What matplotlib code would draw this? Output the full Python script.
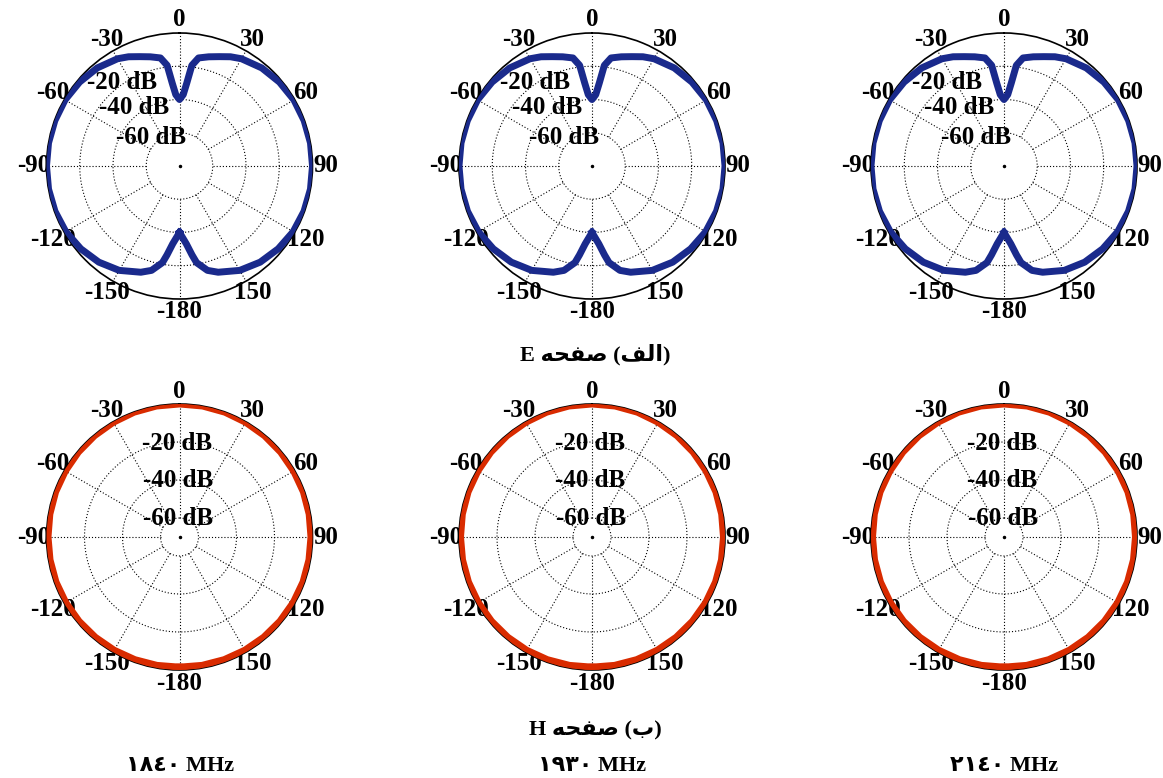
import numpy as np
import matplotlib
matplotlib.use("Agg")
import matplotlib.pyplot as plt

# ---------------- data ----------------
frequencies = ["\u0661\u0668\u0664\u0660 MHz", "\u0661\u0669\u0663\u0660 MHz", "\u0662\u0661\u0664\u0660 MHz"]

e_angles_deg = [-180, -175, -172, -170, -165, -160, -150, -140, -130, -120, -110, -100,
                -90, -80, -70, -60, -50, -40, -30, -25, -20, -15, -10, -7, -5, -3,
                0, 3, 5, 7, 10, 15, 20, 25, 30, 40, 50, 60, 70, 80, 90,
                100, 110, 120, 130, 140, 150, 160, 165, 170, 172, 175, 180]
e_plane_db = [-40, -33, -26, -21, -15, -12, -7.5, -4.5, -2.5, -1.0, -0.3, 0.0,
              0.0, 0.0, -0.2, -0.5, -1.5, -3.0, -5.5, -7.5, -10, -12, -14, -19, -30, -37,
              -40, -37, -30, -19, -14, -12, -10, -7.5, -5.5, -3.0, -1.5, -0.5, -0.2, 0.0, 0.0,
              0.0, -0.3, -1.0, -2.5, -4.5, -7.5, -12, -15, -21, -26, -33, -40]

h_angles_deg = [-180, -170, -160, -150, -140, -130, -120, -110, -100, -90, -80, -70, -60,
                -50, -40, -30, -20, -10, 0, 10, 20, 30, 40, 50, 60, 70, 80, 90,
                100, 110, 120, 130, 140, 150, 160, 170, 180]
h_plane_db = [-1.5, -1.4, -1.3, -1.2, -1.1, -1.0, -0.9, -0.8, -0.8, -0.8, -0.7, -0.6, -0.6,
              -0.5, -0.4, -0.3, -0.1, 0.0, 0.0, 0.0, -0.1, -0.3, -0.4, -0.5, -0.6, -0.6, -0.7, -0.8,
              -0.8, -0.8, -0.9, -1.0, -1.1, -1.2, -1.3, -1.4, -1.5]

angle_ticks = [0, 30, 60, 90, 120, 150, 180, -150, -120, -90, -60, -30]
angle_tick_labels = ["0", "30", "60", "90", "120", "150", "-180", "-150", "-120", "-90", "-60", "-30"]
ring_levels = [-60, -40, -20]
ring_labels = ["-60 dB", "-40 dB", "-20 dB"]

e_rmin, h_rmin = -80, -70

# Persian captions (visual order, presentation forms)
caption_e = "E \uFEEA\uFEA4\uFED4\uFEBB (\uFED2\uFEDF\uFE8D)"
caption_h = "H \uFEEA\uFEA4\uFED4\uFEBB (\uFE8F)"

blue = "#1a2a8c"
red = "#d92b00"

# ---------------- figure ----------------
W, H = 1163, 778
fig = plt.figure(figsize=(W / 100, H / 100), dpi=100)
fig.patch.set_facecolor("white")

font = dict(family=["Liberation Serif", "DejaVu Sans"], weight="bold")
R = 133  # px radius


def make_axes(cx, cy):
    rect = [(cx - R) / W, (H - cy - R) / H, 2 * R / W, 2 * R / H]
    ax = fig.add_axes(rect, projection="polar")
    ax.set_theta_zero_location("N")
    ax.set_theta_direction(-1)
    ax.set_xticks([])
    ax.set_yticks([])
    ax.grid(False)
    ax.set_facecolor("none")
    ax.spines["polar"].set_color("black")
    ax.spines["polar"].set_linewidth(1.2)
    return ax


def draw_grid(ax, rmin):
    ax.set_ylim(rmin, 0)
    th = np.linspace(0, 2 * np.pi, 361)
    for lv in ring_levels:
        ax.plot(th, np.full_like(th, lv), color="black", lw=0.8,
                linestyle=(0, (1, 1.8)), zorder=1)
    for a in range(0, 360, 30):
        t = np.deg2rad(a)
        ax.plot([t, t], [ring_levels[0], 0], color="black", lw=0.8,
                linestyle=(0, (1, 1.8)), zorder=1)
    ax.plot([0], [rmin], marker="o", ms=1.5, color="black", zorder=1)
    frac = 146 / (2 * R)
    for a, lab in zip(angle_ticks, angle_tick_labels):
        t = np.deg2rad(a)
        ax.text(0.5 + frac * np.sin(t), 0.5 + frac * np.cos(t), lab,
                transform=ax.transAxes, ha="center", va="center",
                fontsize=18, clip_on=False, **font)


centers_x = [179.5, 592, 1004]
top_cy, bot_cy = 166, 537

# E-plane row
e_label_pos = [(-44, -55.8), (-37.8, -35.8), (-34.5, -19.4)]
for cx in centers_x:
    ax = make_axes(cx, top_cy)
    draw_grid(ax, e_rmin)
    for (ang, rr), lab in zip(e_label_pos, ring_labels):
        ax.text(np.deg2rad(ang), rr, lab, ha="center", va="center",
                fontsize=18, zorder=4, **font)
    ax.plot(np.deg2rad(e_angles_deg), e_plane_db, color=blue, lw=5,
            solid_joinstyle="round", zorder=3)

# H-plane row
h_label_pos = [(-4, -60), (-1.8, -40.3), (-1.2, -20.6)]
for cx in centers_x:
    ax = make_axes(cx, bot_cy)
    draw_grid(ax, h_rmin)
    for (ang, rr), lab in zip(h_label_pos, ring_labels):
        ax.text(np.deg2rad(ang), rr, lab, ha="center", va="center",
                fontsize=18, zorder=4, **font)
    ax.plot(np.deg2rad(h_angles_deg), h_plane_db, color=red, lw=5,
            solid_joinstyle="round", zorder=3)

# captions
fig.text(595 / W, 1 - 355 / H, caption_e, ha="center", va="center", fontsize=16, **font)
fig.text(595 / W, 1 - 730 / H, caption_h, ha="center", va="center", fontsize=16, **font)
for cx, lab in zip(centers_x, frequencies):
    fig.text(cx / W, 1 - 766 / H, lab, ha="center", va="center", fontsize=16, **font)

fig.savefig("out.png", dpi=100, facecolor="white")
